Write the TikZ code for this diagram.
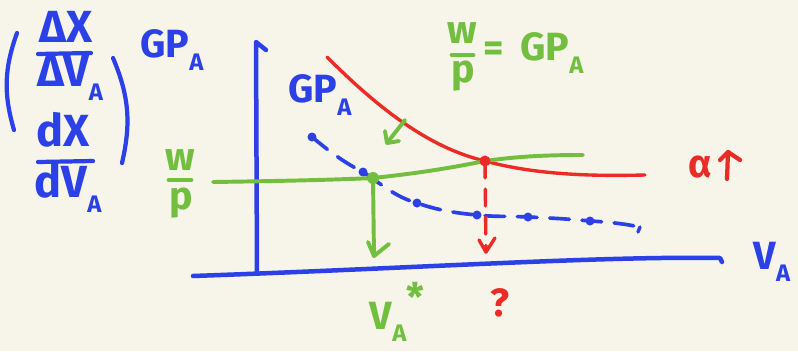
\documentclass[tikz,border=0pt]{standalone}
\usepackage{fontspec}
\setmainfont{Fira Sans}
\usetikzlibrary{arrows.meta}
\definecolor{bg}{HTML}{F7F4E9}
\definecolor{pblue}{HTML}{2B40E6}
\definecolor{pgreen}{HTML}{72BF3F}
\definecolor{pred}{HTML}{EC2A26}
\newcommand{\lowsub}[1]{\raisebox{-0.32em}{\fontsize{17}{17}\selectfont #1}}
\begin{document}
\begin{tikzpicture}[x=0.025cm,y=-0.025cm,line cap=round,line join=round,
  ink/.style={line width=2.4pt},
  axisline/.style={pblue,line width=3.2pt},
  lbl/.style={font=\bfseries\fontsize{28}{28}\selectfont,inner sep=0pt},
  biglbl/.style={font=\bfseries\fontsize{32}{32}\selectfont,inner sep=0pt}]
\fill[bg] (0,0) rectangle (798,351);
\useasboundingbox (0,0) rectangle (798,351);

% ---- left bracket expression
\node[biglbl,pblue] (dXn) at (66,27) {ΔX};
\node[biglbl,pblue] (dVn) at (70,78) {ΔV\lowsub{A}};
\node[biglbl,pblue] (dxd) at (63,130) {dX};
\node[biglbl,pblue] (dvd) at (68,188) {dV\lowsub{A}};
\coordinate (b1l) at (38,54); \coordinate (b1r) at (91,53);
\coordinate (b2l) at (38,162); \coordinate (b2r) at (93,161);
\draw[pblue,ink,line width=3pt] (b1l) -- (b1r);
\draw[pblue,ink,line width=3pt] (b2l) -- (b2r);
\coordinate (lp1) at (17,33); \coordinate (lp2) at (14,130);
\coordinate (rp1) at (113,58); \coordinate (rp2) at (122,163);
\draw[pblue,ink,line width=3pt] (lp1) to[bend right=18] (lp2);
\draw[pblue,ink,line width=3pt] (rp1) to[bend left=18] (rp2);

% ---- axis labels
\node[lbl,pblue] (gpa1) at (172,50) {GP\lowsub{A}};
\node[lbl,pblue] (va) at (772,262) {V\lowsub{A}};

% ---- axes
\coordinate (yb) at (257,272);
\coordinate (yt) at (256,42);
\coordinate (yh) at (266,50);
\draw[axisline] (yb) -- (yt) -- (yh);
\coordinate (xa) at (193,276);
\coordinate (xb) at (720,258);
\coordinate (xh) at (722,262);
\draw[axisline] (xa) .. controls (420,268) and (600,256) .. (xb) -- (xh);

% ---- blue dashed GP_A curve
\coordinate (p1) at (312,137);
\coordinate (p2) at (363,172);
\coordinate (p3) at (417,203);
\coordinate (p4) at (477,215);
\coordinate (p5) at (528,217);
\coordinate (p6) at (590,221);
\coordinate (p7) at (640,227);
\coordinate (p7h) at (638,232);
\draw[pblue,ink,line width=2.6pt,dash pattern=on 14pt off 9pt]
  (p1) .. controls (330,152) and (345,163) .. (p2)
  .. controls (380,183) and (395,197) .. (p3)
  .. controls (437,210) and (455,213) .. (p4)
  .. controls (495,217) and (510,216) .. (p5)
  .. controls (550,218) and (570,219) .. (p6)
  .. controls (610,222) and (625,224) .. (p7);
\draw[pblue,ink] (p7) -- (p7h);
\foreach \p in {p1,p2,p3,p4,p5,p6} \fill[pblue] (\p) circle (4.5);
\node[lbl,pblue] (gpa2) at (320,95) {GP\lowsub{A}};

% ---- red curve
\coordinate (r0) at (327,57);
\coordinate (rE) at (485,161);
\coordinate (r1) at (645,175);
\draw[pred,ink] (r0) .. controls (380,110) and (430,148) .. (rE)
  .. controls (540,176) and (600,176) .. (r1);
\coordinate (rD) at (486,252);
\draw[pred,ink,dash pattern=on 12pt off 8pt] (rE) -- (rD);
\draw[pred,ink] (rD) ++(-7,-12) -- (rD) -- ++(9,-14);

% ---- green wage line
\coordinate (g0) at (213,182);
\coordinate (gE) at (373,178);
\coordinate (g1) at (583,155);
\draw[pgreen,ink,line width=2.8pt] (g0) .. controls (280,181) and (330,180) .. (gE)
  .. controls (420,173) and (450,168) .. (rE)
  .. controls (520,156) and (550,155) .. (g1);
\coordinate (gD) at (374,256);
\draw[pgreen,ink,line width=2.8pt] (gE) -- (gD);
\draw[pgreen,ink,line width=2.8pt] (gD) ++(-6,-14) -- (gD) -- ++(15,-12);
\fill[pgreen] (gE) circle (6);
\fill[pred] (rE) circle (5.5);

% small green arrow
\coordinate (sa0) at (405,120);
\coordinate (sa1) at (387,143);
\draw[pgreen,ink,line width=2.8pt] (sa0) -- (sa1);
\draw[pgreen,ink,line width=2.8pt] (sa1) ++(-2,-12) -- (sa1) -- ++(12,-2);

% ---- green labels
\node[lbl,pgreen] (wl) at (180,160) {w};
\coordinate (wb1) at (169,180); \coordinate (wb2) at (191,180);
\draw[pgreen,line width=3.4pt] (wb1) -- (wb2);
\node[lbl,pgreen] (pl) at (181,203) {p};
\node[lbl,pgreen] (wt) at (462,33) {w};
\coordinate (wt1) at (452,55); \coordinate (wt2) at (473,55);
\draw[pgreen,line width=3.4pt] (wt1) -- (wt2);
\node[lbl,pgreen] (pt) at (463,76) {p};
\node[lbl,pgreen] (eq) at (494,52) {=};
\node[lbl,pgreen] (gpt) at (552,53) {GP\lowsub{A}};
\node[lbl,pgreen] (vs) at (397,312) {V\lowsub{A}\raisebox{0.45em}{*}};

% ---- red labels
\node[lbl,pred] (al) at (700,167) {α};
\coordinate (au0) at (727,179);
\coordinate (au1) at (728,152);
\coordinate (au2) at (740,160);
\coordinate (au3) at (720,160);
\draw[pred,ink,line width=3pt] (au0) -- (au1) -- (au2);
\draw[pred,ink,line width=3pt] (au1) -- (au3);
\node[lbl,pred] (q) at (500,303) {?};
\end{tikzpicture}
\end{document}
